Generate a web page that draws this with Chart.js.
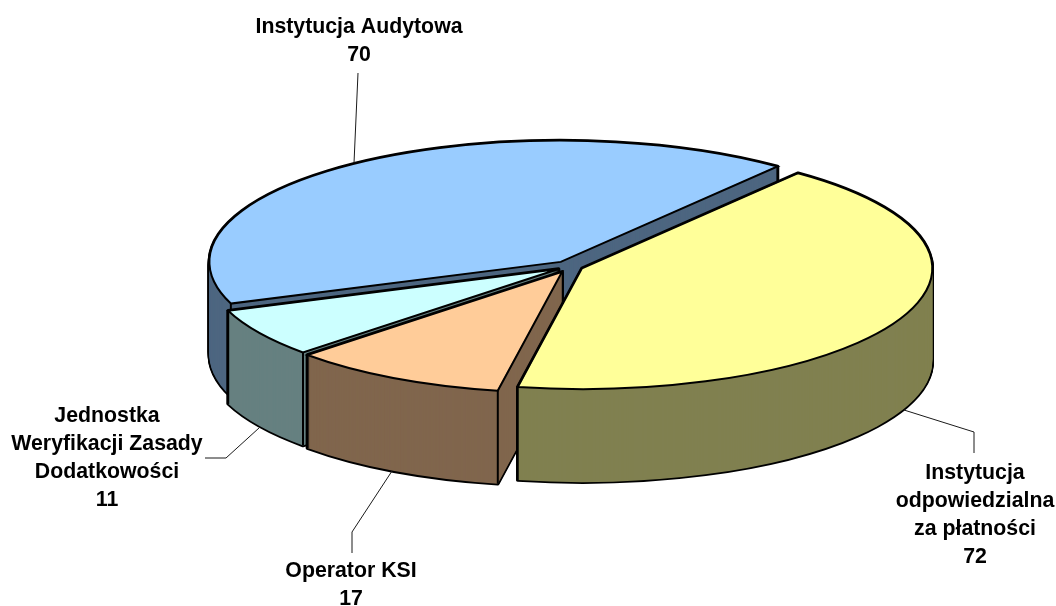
<!DOCTYPE html>
<html lang="pl">
<head>
<meta charset="utf-8">
<title>Wykres</title>
<script src="https://cdn.jsdelivr.net/npm/chart.js@4"></script>
<style>html,body{margin:0;padding:0;background:#fff}canvas{display:block}</style>
</head>
<body>
<canvas id="c" width="1056" height="606"></canvas>
<script>
const categories = [
  ["Instytucja", "odpowiedzialna", "za płatności"],
  ["Operator KSI"],
  ["Jednostka", "Weryfikacji Zasady", "Dodatkowości"],
  ["Instytucja Audytowa"]
];
const values = [72, 17, 11, 70];
const topColors = ["#FFFF99", "#FFCC99", "#CCFFFF", "#99CCFF"];
const wallColors = ["#808050", "#80664D", "#668080", "#4D6680"];
const explode = [12.6, 17.5, 14, 16.6];

const TILT = 0.345, DEPTH = 93;
const labelPlaces = [
  {x: 975, y: 473}, {x: 351, y: 571}, {x: 107, y: 416}, {x: 359, y: 27}
];
const leaders = [
  [[904, 410], [974, 432], [974, 453]],
  [[392, 471], [352, 532], [352, 553]],
  [[259, 428], [226, 458], [205, 458]],
  [[354, 163], [358, 73]]
];

function geom(el) {
  const o = (el.options.offset || 0) / 4;
  const mid = (el.startAngle + el.endAngle) / 2;
  const circ = el.endAngle - el.startAngle;
  const fix = 1 - Math.sin(Math.min(Math.PI, circ));
  return {
    x: el.x + Math.cos(mid) * o,
    y: el.y + Math.sin(mid) * o,
    r: el.outerRadius + o * fix,
    a0: el.startAngle, a1: el.endAngle
  };
}
function slicePath(ctx, el, h) {
  const g = geom(el);
  ctx.save();
  ctx.translate(0, h);
  ctx.translate(el.x, el.y);
  ctx.scale(1, TILT);
  ctx.translate(-el.x, -el.y);
  ctx.beginPath();
  ctx.moveTo(g.x, g.y);
  ctx.arc(g.x, g.y, g.r, g.a0, g.a1);
  ctx.closePath();
  ctx.restore();
}
const pie3d = {
  id: 'pie3d',
  beforeDatasetsDraw(chart) {
    const ctx = chart.ctx, arcs = chart.getDatasetMeta(0).data;
    ctx.save();
    ctx.lineJoin = 'round';
    for (let i = arcs.length - 1; i >= 0; i--) {
      const el = arcs[i];
      ctx.strokeStyle = '#000';
      ctx.lineWidth = 3.5;
      for (let h = DEPTH; h >= 0; h--) { slicePath(ctx, el, h); ctx.stroke(); }
      ctx.fillStyle = wallColors[i];
      for (let h = DEPTH; h >= 0; h--) { slicePath(ctx, el, h); ctx.fill(); }
      const g = geom(el);
      ctx.lineWidth = 2;
      [g.a0, g.a1].forEach(a => {
        const px = g.x + Math.cos(a) * g.r;
        const py = el.y + (g.y - el.y + Math.sin(a) * g.r) * TILT;
        ctx.beginPath();
        ctx.moveTo(px, py);
        ctx.lineTo(px, py + DEPTH);
        ctx.stroke();
      });
    }
    ctx.restore();
    const a = arcs[0];
    ctx.save();
    ctx.translate(a.x, a.y);
    ctx.scale(1, TILT);
    ctx.translate(-a.x, -a.y);
  },
  afterDatasetsDraw(chart) {
    const ctx = chart.ctx, arcs = chart.getDatasetMeta(0).data;
    ctx.restore();
    ctx.save();
    ctx.strokeStyle = '#000';
    ctx.lineWidth = 2;
    ctx.lineJoin = 'miter';
    arcs.forEach(el => { slicePath(ctx, el, 0); ctx.stroke(); });
    ctx.strokeStyle = '#1a1a1a';
    ctx.lineWidth = 1;
    leaders.forEach(pts => {
      ctx.beginPath();
      pts.forEach((p, i) => i ? ctx.lineTo(p[0], p[1]) : ctx.moveTo(p[0], p[1]));
      ctx.stroke();
    });
    ctx.fillStyle = '#000';
    ctx.font = 'bold 21.3px "Liberation Sans", Arial, sans-serif';
    ctx.textAlign = 'center';
    ctx.textBaseline = 'middle';
    categories.forEach((lines, i) => {
      const all = lines.concat(String(values[i]));
      all.forEach((t, j) => ctx.fillText(t, labelPlaces[i].x, labelPlaces[i].y + j * 28));
    });
    ctx.restore();
  }
};
new Chart(document.getElementById('c'), {
  type: 'pie',
  data: {
    labels: categories.map(l => l.join(' ')),
    datasets: [{
      data: values,
      backgroundColor: topColors,
      borderWidth: 0,
      offset: explode.map(v => v * 4),
      clip: false
    }]
  },
  options: {
    responsive: false,
    animation: false,
    rotation: 38.1,
    radius: 343.5,
    layout: {padding: {left: 85, bottom: 73}},
    plugins: {legend: {display: false}, tooltip: {enabled: false}}
  },
  plugins: [pie3d]
});
</script>
</body>
</html>
